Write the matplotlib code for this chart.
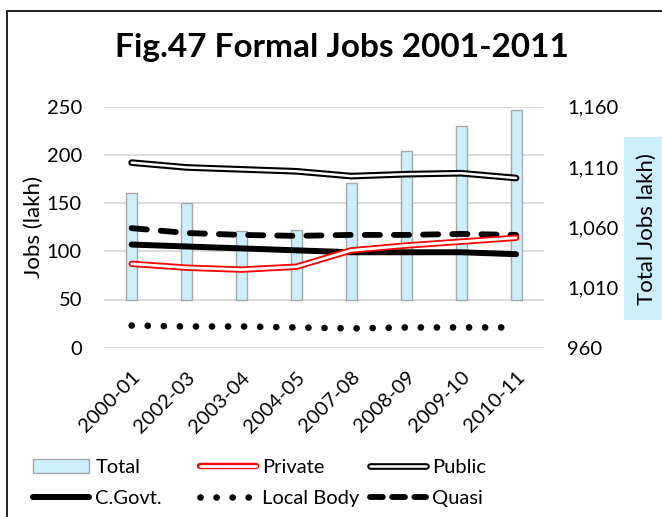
import matplotlib
matplotlib.use("Agg")
import matplotlib.pyplot as plt
from matplotlib.lines import Line2D
from matplotlib.patches import Patch, Rectangle

plt.rcParams['font.family'] = ['Lato', 'DejaVu Sans']

# ---- data (lakh) ----
years = ["2000-01", "2002-03", "2003-04", "2004-05",
         "2007-08", "2008-09", "2009-10", "2010-11"]
total = [1088, 1080, 1057, 1058, 1097, 1123, 1144, 1157]
private = [87, 83, 81, 84, 101, 106, 110, 114]
public = [192, 187, 185, 183, 178, 180, 181, 176]
cgovt = [107, 105, 103, 101, 99, 99, 99, 97]
local_body = [23, 22, 22, 21, 20, 21, 21, 21]
quasi = [124, 119, 117, 116, 117, 117, 118, 117]

left_ticks = [0, 50, 100, 150, 200, 250]
right_ticks = [960, 1010, 1060, 1110, 1160]

x = list(range(len(years)))

BAR_FACE = "#CCEFFC"
BAR_EDGE = "#A6A6A6"
GRID = "#D9D9D9"

fig = plt.figure(figsize=(6.62, 5.17), dpi=100)
W, H = 662, 517


def fx(px):
    return px / W


def fy(py):
    return 1 - py / H


rect = [fx(104.2), fy(347.7), fx(543.5) - fx(104.2), fy(106.7) - fy(347.7)]

# grid + left axis (drawn lowest)
axg = fig.add_axes(rect)
axg.set_xlim(-0.5, len(years) - 0.5)
axg.set_ylim(0, 250)
axg.set_yticks(left_ticks)
axg.yaxis.grid(True, color=GRID, lw=1.3)
axg.set_axisbelow(True)
axg.tick_params(axis='y', length=0, pad=16, labelsize=14.5, labelcolor="#000000")
axg.set_xticks(x)
axg.set_xticklabels(years, rotation=45, ha='right', rotation_mode='anchor',
                    fontsize=14.5)
axg.tick_params(axis='x', length=0, pad=15)
for s in axg.spines.values():
    s.set_visible(False)
axg.set_ylabel("Jobs (lakh)", fontsize=16, labelpad=2)

# bars on the secondary axis
axb = axg.twinx()
axb.set_ylim(960, 1160)
axb.set_yticks(right_ticks)
axb.set_yticklabels([f"{v:,}" for v in right_ticks])
axb.tick_params(axis='y', length=0, pad=17, labelsize=14.5)
for s in axb.spines.values():
    s.set_visible(False)
axb.bar(x, [t - 1000 for t in total], bottom=1000, width=0.2,
        color=BAR_FACE, edgecolor=BAR_EDGE, linewidth=1.0)

# lines on the primary scale, above the bars
axl = fig.add_axes(rect, sharex=axg, sharey=axg)
axl.patch.set_visible(False)
axl.axis('off')

axl.plot(x, public, color="black", lw=4.8, solid_capstyle='round',
         solid_joinstyle='round', zorder=3)
axl.plot(x, public, color="white", lw=1.8, solid_capstyle='round',
         solid_joinstyle='round', zorder=3.1)
axl.plot(x, quasi, color="black", lw=4.2, linestyle=(0, (2.6, 2.4)),
         dash_capstyle='round', zorder=3)
axl.plot(x, cgovt, color="black", lw=4.3, solid_capstyle='round', zorder=3.2)
axl.plot(x, private, color="#FF0000", lw=4.6, solid_capstyle='round',
         solid_joinstyle='round', zorder=3.3)
axl.plot(x, private, color="white", lw=2.0, solid_capstyle='round',
         solid_joinstyle='round', zorder=3.4)
axl.plot(x, local_body, color="black", lw=4.8, linestyle=(0, (0.01, 2.4)),
         dash_capstyle='round', zorder=3)

# right axis label with its shaded box
fig.add_artist(Rectangle((fx(624), fy(320)), fx(700) - fx(624), fy(137) - fy(320),
                         transform=fig.transFigure, facecolor=BAR_FACE,
                         edgecolor='none', zorder=1))
fig.text(fx(647), fy(229), "Total Jobs lakh)", rotation=90, ha='center',
         va='center', fontsize=16, zorder=2)

# title
fig.text(fx(342), fy(47), "Fig.47 Formal Jobs 2001-2011", ha='center',
         va='center', fontsize=24, fontweight='bold')

# chart frame
fig.add_artist(Rectangle((fx(7), fy(530)), fx(670) - fx(7), fy(11) - fy(530),
                         transform=fig.transFigure, facecolor='none',
                         edgecolor='#222222', lw=1.4, zorder=0))

# legend, three evenly spaced columns
h_total = Patch(facecolor=BAR_FACE, edgecolor=BAR_EDGE, lw=1.0)
h_private = (Line2D([], [], color="#FF0000", lw=4.6, solid_capstyle='round'),
             Line2D([], [], color="white", lw=2.0, solid_capstyle='round'))
h_public = (Line2D([], [], color="black", lw=4.8, solid_capstyle='round'),
            Line2D([], [], color="white", lw=1.8, solid_capstyle='round'))
h_cgovt = Line2D([], [], color="black", lw=4.3, solid_capstyle='round')
h_local = Line2D([], [], color="black", lw=4.8, linestyle=(0, (0.01, 2.4)),
                 dash_capstyle='round')
h_quasi = Line2D([], [], color="black", lw=4.2, linestyle=(0, (2.2, 1.6)),
                 dash_capstyle='round')

columns = [((h_total, h_cgovt), ("Total", "C.Govt."), 33),
           ((h_private, h_local), ("Private", "Local Body"), 200),
           ((h_public, h_quasi), ("Public", "Quasi"), 370)]
for handles, labels, left in columns:
    fig.legend(handles, labels, loc='upper left',
               bbox_to_anchor=(fx(left), fy(459)), bbox_transform=fig.transFigure,
               frameon=False, fontsize=14.5, handlelength=2.8, handletextpad=0.3,
               labelspacing=0.7, borderpad=0, borderaxespad=0)

fig.savefig("out.png", dpi=100)
